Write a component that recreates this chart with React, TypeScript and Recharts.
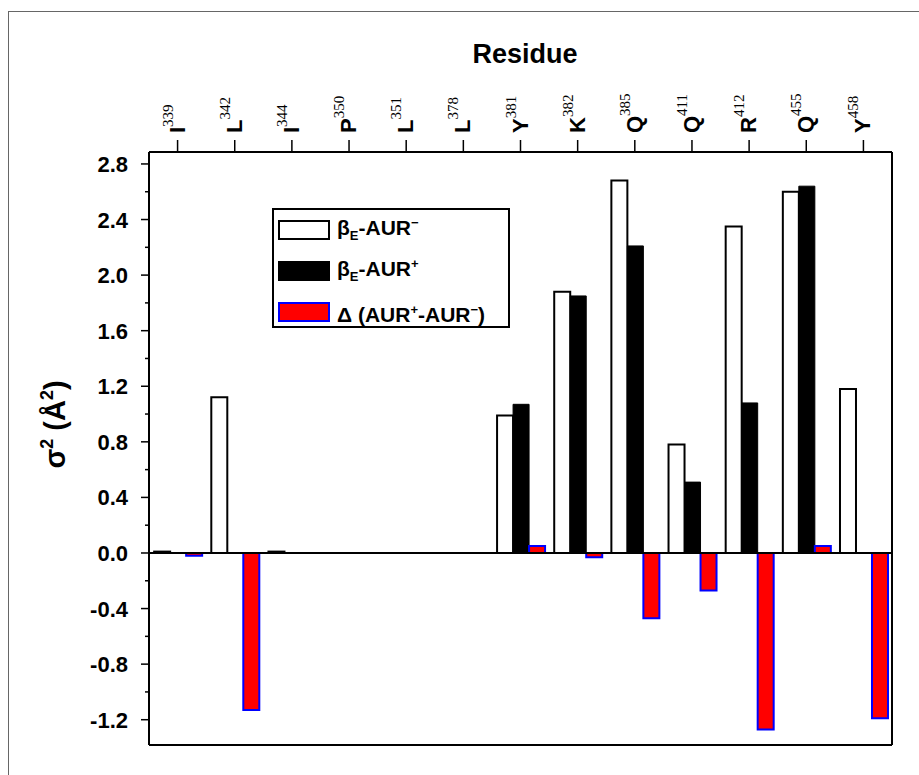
import React from 'react';
import { BarChart, Bar, XAxis, YAxis, ReferenceLine } from 'recharts';

const residues = ['I', 'L', 'I', 'P', 'L', 'L', 'Y', 'K', 'Q', 'Q', 'R', 'Q', 'Y'];
const residueNumbers = ['339', '342', '344', '350', '351', '378', '381', '382', '385', '411', '412', '455', '458'];
const aurMinus = [0.01, 1.12, 0.01, 0, 0, 0, 0.99, 1.88, 2.68, 0.78, 2.35, 2.6, 1.18];
const aurPlus = [0, 0, 0, 0, 0, 0, 1.07, 1.85, 2.21, 0.51, 1.08, 2.64, 0];
const delta = [-0.02, -1.13, 0, 0, 0, 0, 0.05, -0.03, -0.47, -0.27, -1.27, 0.05, -1.19];

const yMajorTicks = [-1.2, -0.8, -0.4, 0, 0.4, 0.8, 1.2, 1.6, 2.0, 2.4, 2.8];
const yMinorTicks = [-1.0, -0.6, -0.2, 0.2, 0.6, 1.0, 1.4, 1.8, 2.2, 2.6];

const data = residues.map((r, i) => ({
  name: r + residueNumbers[i],
  res: r,
  num: residueNumbers[i],
  minus: aurMinus[i],
  plus: aurPlus[i],
  delta: delta[i],
}));

const yTicks = [...yMajorTicks, ...yMinorTicks].sort((a, b) => a - b);

const SANS = '"Liberation Sans", Arial, sans-serif';
const SERIF = '"Liberation Serif", "Times New Roman", serif';

function ResidueTick(props: any) {
  const { x, y, payload } = props;
  const d = data.find(e => e.name === payload.value);
  if (!d) return null;
  return (
    <g transform={`translate(${x},${y}) rotate(-90)`}>
      <text x={0} y={7} fontFamily={SANS} fontWeight="bold" fontSize={22} fill="#000" textAnchor="start">
        {d.res}
        <tspan fontFamily={SERIF} fontWeight="normal" fontSize={15} dy={-12}>{d.num}</tspan>
      </text>
    </g>
  );
}

function SigmaTick(props: any) {
  const { x, y, payload } = props;
  const v = payload.value;
  const major = Math.round(v * 10) % 4 === 0;
  return (
    <g>
      <line x1={x - (major ? 8 : 4)} x2={x} y1={y} y2={y} stroke="#000" strokeWidth={1.5} />
      {major && (
        <text x={x - 21} y={y} dy={8} textAnchor="end" fontFamily={SANS} fontWeight="bold" fontSize={22} fill="#000">
          {v.toFixed(1)}
        </text>
      )}
    </g>
  );
}

function TitleLabel(props: any) {
  const { viewBox } = props;
  return (
    <text x={viewBox.x + viewBox.width / 2 + 4.5} y={viewBox.y - 29} textAnchor="middle"
      fontFamily={SANS} fontWeight="bold" fontSize={27} fill="#000">
      Residue
    </text>
  );
}

function SigmaLabel(props: any) {
  const { viewBox } = props;
  const cx = 55;
  const cy = viewBox.y + viewBox.height / 2 - 24;
  return (
    <text x={cx} y={cy + 10} transform={`rotate(-90, ${cx}, ${cy})`} textAnchor="middle"
      fontFamily={SANS} fontWeight="bold" fontSize={29} fill="#000">
      <tspan>σ</tspan>
      <tspan fontSize={18} dy={-12}>2</tspan>
      <tspan dy={12}>{'\u00A0(Å'}</tspan>
      <tspan fontSize={18} dy={-12}>2</tspan>
      <tspan dy={12}>)</tspan>
    </text>
  );
}

const legendItems = [
  { key: 'minus', fill: '#fff', stroke: '#000', label: <>β<sub style={{ fontSize: 13 }}>E</sub>-AUR<sup style={{ fontSize: 13 }}>−</sup></> },
  { key: 'plus', fill: '#000', stroke: '#000', label: <>β<sub style={{ fontSize: 13 }}>E</sub>-AUR<sup style={{ fontSize: 13 }}>+</sup></> },
  { key: 'delta', fill: '#ff0000', stroke: '#0000ff', label: <>Δ (AUR<sup style={{ fontSize: 13 }}>+</sup>-AUR<sup style={{ fontSize: 13 }}>−</sup>)</> },
];

export default function App() {
  return (
    <div style={{ position: 'absolute', left: 0, top: 0, width: 919, height: 775, background: '#fff', overflow: 'hidden' }}>
      <div style={{ position: 'absolute', left: 8, top: 11, width: 960, height: 800, borderLeft: '1px solid #666', borderTop: '1px solid #666' }} />
      <BarChart
        width={919}
        height={775}
        data={data}
        margin={{ top: 92, right: 26, bottom: 29, left: 20 }}
        barCategoryGap="9%"
        barGap={0}
      >
        <XAxis dataKey="name" orientation="top" height={60} interval={0}
          tick={<ResidueTick />} tickSize={12} tickMargin={7}
          tickLine={{ stroke: '#000', strokeWidth: 1.5 }}
          axisLine={{ stroke: '#000', strokeWidth: 2 }}
          label={<TitleLabel />} />
        <XAxis xAxisId="b" dataKey="name" orientation="bottom" height={1} tick={false} tickLine={false}
          axisLine={{ stroke: '#000', strokeWidth: 2 }} />
        <YAxis domain={[-1.382, 2.886]} allowDataOverflow ticks={yTicks} interval={0} width={129}
          tick={<SigmaTick />} tickSize={0} tickMargin={0} tickLine={false}
          axisLine={{ stroke: '#000', strokeWidth: 2 }}
          label={<SigmaLabel />} />
        <YAxis yAxisId="r" orientation="right" width={1} tick={false} tickLine={false}
          axisLine={{ stroke: '#000', strokeWidth: 2 }} />
        <Bar dataKey="minus" fill="#fff" stroke="#000" strokeWidth={2} isAnimationActive={false} />
        <Bar dataKey="plus" fill="#000" stroke="#000" strokeWidth={1} isAnimationActive={false} />
        <Bar dataKey="delta" fill="#ff0000" stroke="#0000ff" strokeWidth={2} isAnimationActive={false} />
        <ReferenceLine y={0} stroke="#000" strokeWidth={2} />
      </BarChart>
      <div style={{
        position: 'absolute', left: 272, top: 208, width: 238, height: 120,
        border: '2px solid #000', boxSizing: 'border-box', background: '#fff',
        fontFamily: SANS, fontWeight: 'bold', fontSize: 21, color: '#000',
      }}>
        {legendItems.map((item, i) => (
          <div key={item.key} style={{ position: 'absolute', left: 4, top: 9 + i * 41, height: 22, display: 'flex', alignItems: 'center' }}>
            <div style={{ width: 52, height: 20, background: item.fill, border: `2px solid ${item.stroke}`, boxSizing: 'border-box' }} />
            <span style={{ marginLeft: 7, lineHeight: '22px', whiteSpace: 'nowrap' }}>{item.label}</span>
          </div>
        ))}
      </div>
    </div>
  );
}
